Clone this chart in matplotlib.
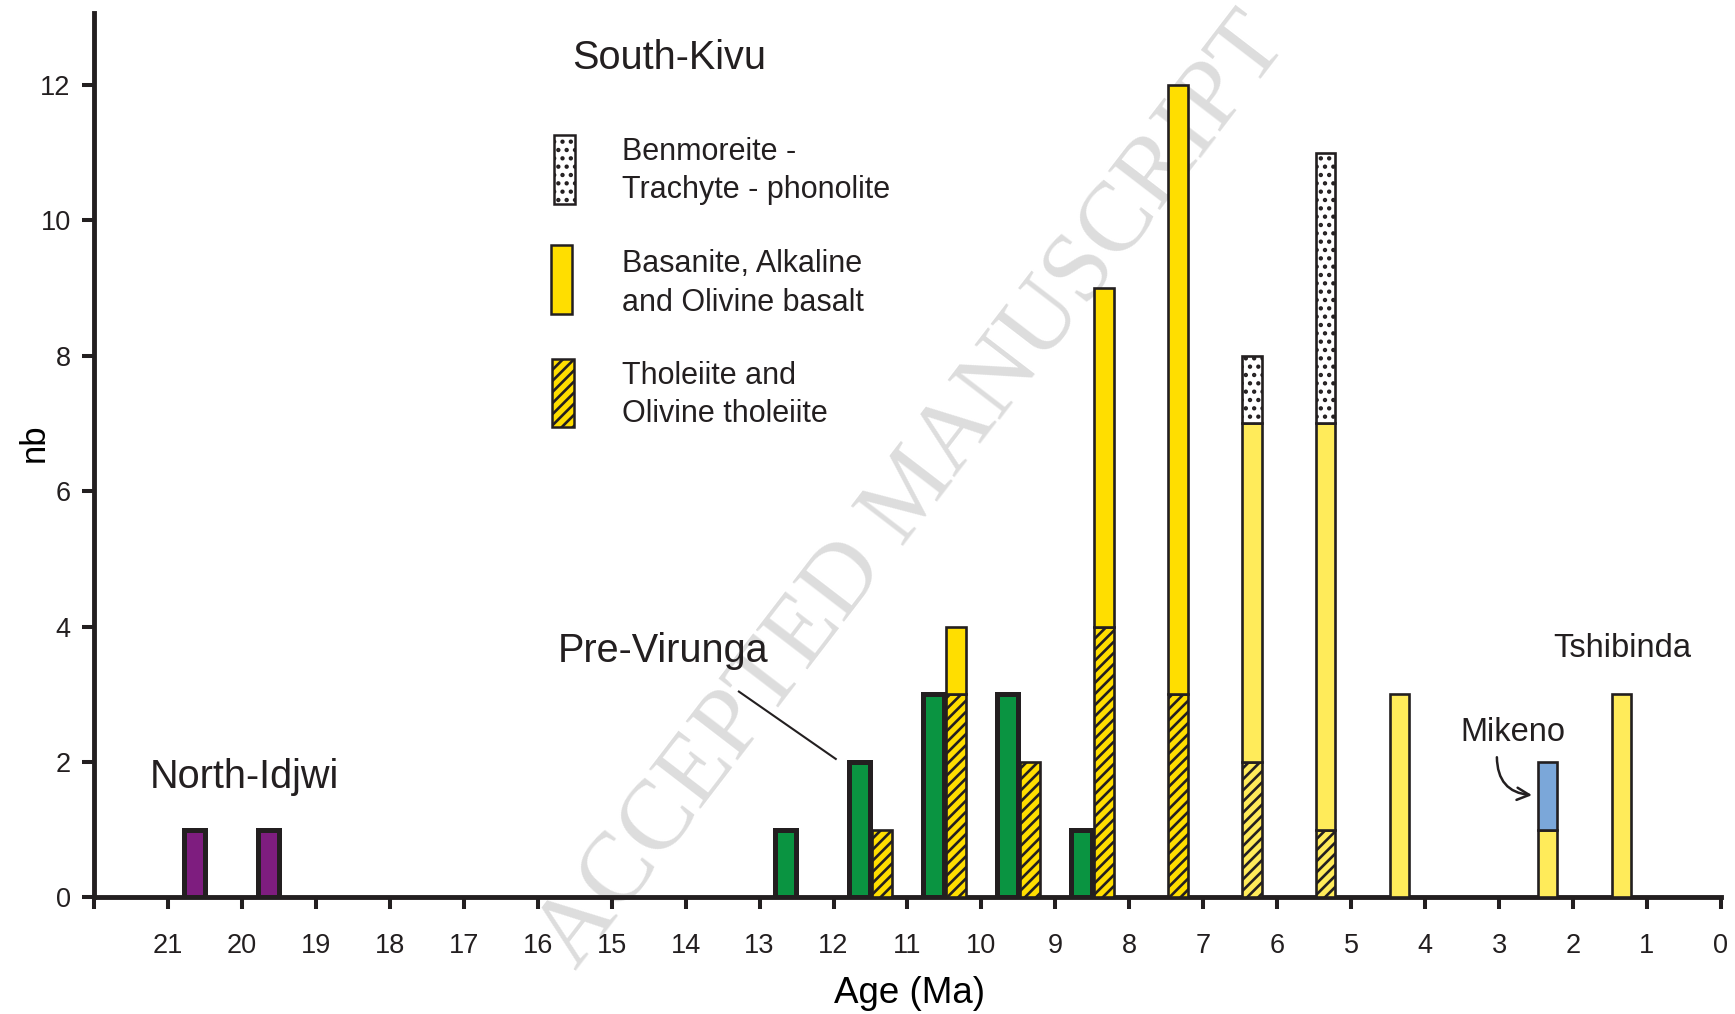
import numpy as np
import matplotlib
matplotlib.use("Agg")
import matplotlib.pyplot as plt
from matplotlib.patches import Rectangle

# counts per 1 Myr age bin, each bin named by its younger bound (bin 8 = 8-9 Ma)
north_idjwi_bins = [20, 19]
north_idjwi_counts = [1, 1]

pre_virunga_bins = [12, 11, 10, 9, 8]
pre_virunga_counts = [1, 2, 3, 3, 1]

south_kivu_bins = [11, 10, 9, 8, 7, 6, 5, 4, 3, 2, 1]
tholeiite_counts = [1, 3, 2, 4, 3, 2, 1, 0, 0, 0, 0]
basanite_counts = [0, 1, 0, 5, 9, 5, 6, 3, 0, 1, 3]
benmoreite_counts = [0, 0, 0, 0, 0, 1, 4, 0, 0, 0, 0]
mikeno_counts = [0, 0, 0, 0, 0, 0, 0, 0, 0, 1, 0]

x_ticks = list(range(0, 23))
x_tick_labels = [str(t) for t in range(0, 22)] + [""]
y_ticks = [0, 2, 4, 6, 8, 10, 12]

legend_labels = [
    ("Benmoreite -", "Trachyte - phonolite"),
    ("Basanite, Alkaline", "and Olivine basalt"),
    ("Tholeiite and", "Olivine tholeiite"),
]

# colours
INK = "#231F20"
GOLD = "#FFDE00"
LIGHT = "#FFEB5A"
GREEN = "#0A9441"
PURPLE = "#7E1D7F"
BLUE = "#7BA7D9"

plt.rcParams["font.family"] = ["Liberation Sans", "DejaVu Sans"]
plt.rcParams["hatch.linewidth"] = 1.9
plt.rcParams["text.color"] = INK

fig = plt.figure(figsize=(17.35, 10.14), dpi=100)
ax = fig.add_axes([0.0542, 0.115, 0.9377, 0.872])

# --- South-Kivu stacked bars (left half of each bin) ---
sk_x = np.array(south_kivu_bins) + 0.345
n = len(south_kivu_bins)
shade = np.array([GOLD if b >= 7 else LIGHT for b in south_kivu_bins])
layers = [
    (tholeiite_counts, "///", shade),
    (basanite_counts, None, shade),
    (benmoreite_counts, "..", np.array(["white"] * n)),
    (mikeno_counts, None, np.array([BLUE] * n)),
]
bottom = np.zeros(n)
for counts, hatch, colors in layers:
    c = np.array(counts, dtype=float)
    m = c > 0
    ax.bar(sk_x[m], c[m], width=0.265, bottom=bottom[m], color=colors[m],
           edgecolor=INK, linewidth=1.9, hatch=hatch, zorder=3)
    bottom += c

# --- Pre-Virunga and North-Idjwi (right half of each bin) ---
ax.bar(np.array(pre_virunga_bins) + 0.645, pre_virunga_counts, width=0.285,
       color=GREEN, edgecolor=INK, linewidth=3.6, zorder=4)
ax.bar(np.array(north_idjwi_bins) + 0.645, north_idjwi_counts, width=0.285,
       color=PURPLE, edgecolor=INK, linewidth=3.6, zorder=4)

# axes styling
ax.set_xlim(22, 0)
ax.set_ylim(0, 13.06)
ax.set_xticks(x_ticks)
ax.set_xticklabels(x_tick_labels)
ax.set_yticks(y_ticks)
for s in ["top", "right"]:
    ax.spines[s].set_visible(False)
for s in ["left", "bottom"]:
    ax.spines[s].set_linewidth(3.5)
    ax.spines[s].set_color(INK)
ax.tick_params(axis="both", direction="out", length=8.4, width=2.9,
               color=INK, labelcolor=INK, labelsize=19.5)
ax.tick_params(axis="x", pad=17)
ax.tick_params(axis="y", pad=8.4)

ax.set_xlabel("Age (Ma)", fontsize=26.5)
ax.xaxis.set_label_coords(0.501, -0.0894)
ax.set_ylabel("nb", fontsize=25)
ax.yaxis.set_label_coords(-0.0269, 0.514)

# legend, drawn by hand as tall swatches
swatches = [
    (15.49, 10.245, "white", ".."),
    (15.53, 8.62, GOLD, None),
    (15.515, 6.945, GOLD, "///"),
]
for (x0, y0, fc, hatch), (l1, l2), yb in zip(swatches, legend_labels,
                                             [10.89, 9.23, 7.585]):
    ax.add_patch(Rectangle((x0, y0), 0.29, 1.01, facecolor=fc, edgecolor=INK,
                           linewidth=1.8, hatch=hatch, zorder=3))
    ax.text(14.86, yb, l1, fontsize=22, ha="left", va="baseline", zorder=5)
    ax.text(14.86, yb - 0.567, l2, fontsize=22, ha="left", va="baseline", zorder=5)

# group labels
ax.text(15.532, 12.235, "South-Kivu", fontsize=28.5, ha="left", va="baseline", zorder=5)
ax.text(15.735, 3.483, "Pre-Virunga", fontsize=28.5, ha="left", va="baseline", zorder=5)
ax.text(21.252, 1.621, "North-Idjwi", fontsize=28.5, ha="left", va="baseline", zorder=5)
ax.text(2.266, 3.557, "Tshibinda", fontsize=23.5, ha="left", va="baseline", zorder=5)
ax.text(3.519, 2.315, "Mikeno", fontsize=23.5, ha="left", va="baseline", zorder=5)

ax.plot([13.28, 11.97], [3.04, 2.045], color=INK, linewidth=1.5, zorder=5)
ax.annotate("", xy=(2.555, 1.51), xytext=(3.03, 2.07),
            arrowprops=dict(arrowstyle="->", connectionstyle="arc3,rad=0.45",
                            color=INK, lw=1.8, shrinkA=0, shrinkB=0,
                            mutation_scale=22), zorder=5)

# watermark
ax.text(0.526, 0.515, "ACCEPTED MANUSCRIPT", transform=fig.transFigure,
        fontsize=71, family="Liberation Serif", color="#DDDDDD",
        rotation=52.5, rotation_mode="anchor", ha="center", va="center",
        zorder=1, clip_on=False)

fig.savefig("out.png", dpi=100)
